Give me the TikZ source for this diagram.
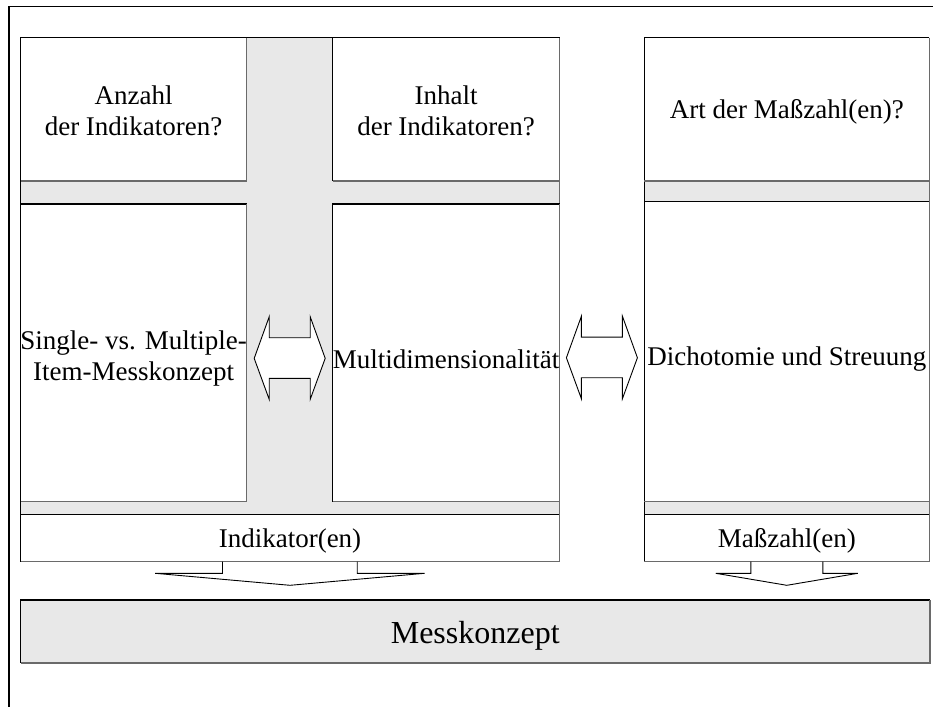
\documentclass[tikz,border=0pt]{standalone}
\usepackage{fontspec}
\setmainfont{Liberation Serif}
\usetikzlibrary{calc}

\definecolor{bandgray}{HTML}{E8E8E8}
\definecolor{edgegray}{HTML}{6A6A6A}

\newcommand{\txtfont}{\fontsize{27}{31}\selectfont}
\newcommand{\bigfont}{\fontsize{32}{36}\selectfont}

\tikzset{
  cell/.style={fill=white, inner sep=0pt, outer sep=0pt, anchor=north west},
  band/.style={fill=bandgray, inner sep=0pt, outer sep=0pt, anchor=north west},
  lbl/.style={inner sep=0pt, align=center, font=\txtfont},
  litedge/.style={draw=black, line width=1.1pt},
  shadeedge/.style={draw=edgegray, line width=1.4pt},
  blockarrow/.style={draw=black, fill=white, line width=0.9pt, line join=miter},
  frameline/.style={draw=black, line width=1.6pt},
}

\begin{document}
\begin{tikzpicture}[x=1pt, y=-1pt]
  \useasboundingbox (0,0) rectangle (933,706);
  \clip (0,0) rectangle (933,706);

  % outer frame (runs past the page on the right and bottom)
  \draw[frameline] (9,6.5) rectangle (960,730);

  % grey backgrounds of the two panels
  \node[band, minimum width=539pt, minimum height=476.6pt] (lp) at (20.5,37.7) {};
  \node[band, minimum width=285pt, minimum height=476.6pt] (rp) at (644.3,37.7) {};

  % left panel cells
  \node[cell, minimum width=226.2pt, minimum height=143.3pt] (anz) at (20.5,37.7) {};
  \node[cell, minimum width=226.8pt, minimum height=143.3pt] (inh) at (332.7,37.7) {};
  \node[cell, minimum width=226.2pt, minimum height=297.7pt] (sing) at (20.5,204) {};
  \node[cell, minimum width=226.8pt, minimum height=297.7pt] (multi) at (332.7,204) {};
  \node[cell, minimum width=539pt, minimum height=47.4pt] (ind) at (20.5,514.3) {};

  % right panel cells
  \node[cell, minimum width=285pt, minimum height=143.3pt] (art) at (644.3,37.7) {};
  \node[cell, minimum width=285pt, minimum height=300pt] (dich) at (644.3,201.7) {};
  \node[cell, minimum width=285pt, minimum height=47.4pt] (mass) at (644.3,514.3) {};

  % result bar
  \node[band, minimum width=909.5pt, minimum height=62.7pt] (mess) at (20.5,600) {};

  % two-tone borders: top/left black, right/bottom grey
  \foreach \n in {lp,rp,anz,inh,sing,multi,ind,art,dich,mass} {
    \draw[litedge] (\n.south west) |- (\n.north east);
    \draw[shadeedge] (\n.north east) |- (\n.south west);
  }
  \draw[litedge] (mess.south west) |- (mess.north east);
  \draw[shadeedge, line width=2.2pt] (mess.north east) |- (mess.south west);

  % cell texts
  \node[lbl] (anzT)   at ($(anz.center)+(0,1.5)$)   {Anzahl\\der Indikatoren?};
  \node[lbl] (inhT)   at ($(inh.center)+(0,1.5)$)   {Inhalt\\der Indikatoren?};
  \node[lbl] (artT)   at ($(art.center)+(0,3)$)     {Art der Maßzahl(en)?};
  \node[lbl] (singT)  at ($(sing.center)+(0,6)$)    {Single- vs. Multiple-\\Item-Messkonzept};
  \node[lbl] (multiT) at ($(multi.center)+(0,6)$)   {Multidimensionalität};
  \node[lbl] (dichT)  at ($(dich.center)+(0,7)$)    {Dichotomie und Streuung};
  \node[lbl] (indT)   at ($(ind.center)+(0,3)$)     {Indikator(en)};
  \node[lbl] (massT)  at ($(mass.center)+(0,3)$)    {Maßzahl(en)};
  \node[lbl, font=\bigfont] (messT) at ($(mess.center)+(0,4)$) {Messkonzept};

  % horizontal double arrows between the columns
  \coordinate (da1) at ($(sing.east)!0.5!(multi.west)+(0,5.5)$);
  \coordinate (da2) at ($(multi.east)!0.5!(dich.west)+(0,5.5)$);
  \foreach \c in {da1,da2} {
    \draw[blockarrow] ($(\c)+(-35.5,0)$) -- ++(15,-41.6) -- ++(0,21) -- ++(41,0)
      -- ++(0,-21) -- ++(15,41.6) -- ++(-15,41) -- ++(0,-21) -- ++(-41,0)
      -- ++(0,21) -- cycle;
  }

  % block arrows down to the result bar
  \draw[blockarrow, fill=none] ($(ind.south)+(-67.5,0)$) -- ++(0,11.6) -- ++(-67.3,0)
    -- ($(ind.south)+(0,23.6)$) -- ++(134.5,-12) -- ++(-67.3,0) -- ++(0,-11.6);
  \draw[blockarrow, fill=none] ($(mass.south)+(-36,0)$) -- ++(0,11.6) -- ++(-35,0)
    -- ($(mass.south)+(0,23.6)$) -- ++(71,-12) -- ++(-35,0) -- ++(0,-11.6);
\end{tikzpicture}
\end{document}
